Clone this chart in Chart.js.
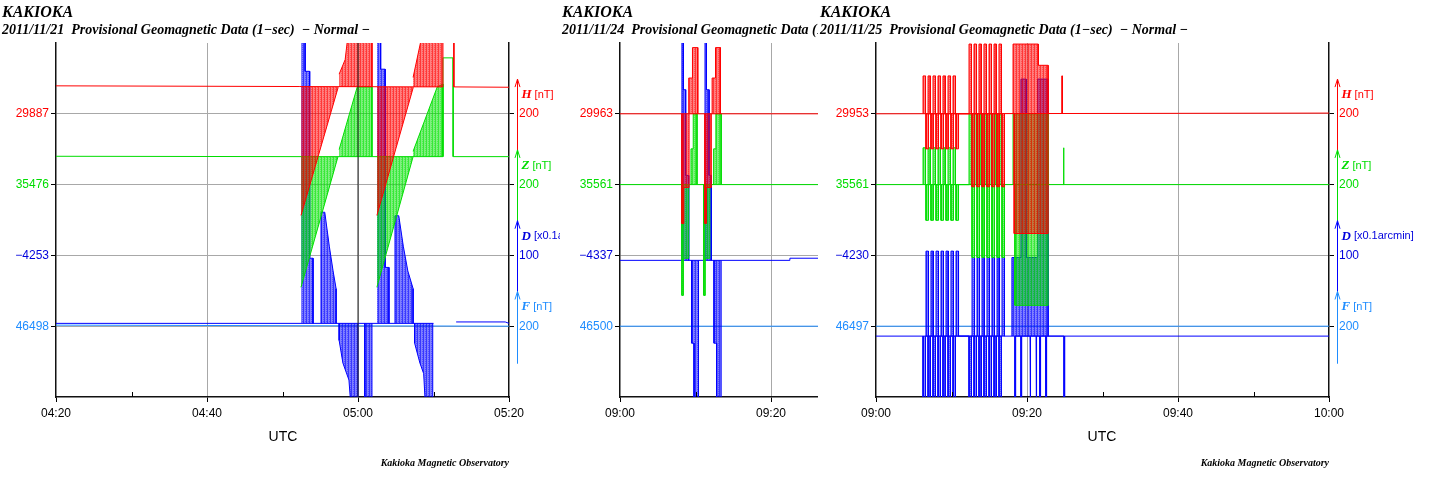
<!DOCTYPE html>
<html>
<head>
<meta charset="utf-8">
<script src="https://cdn.jsdelivr.net/npm/chart.js@4.4.0/dist/chart.umd.min.js"></script>
<style>
  body { margin: 0; background: #fff; width: 1429px; height: 482px; overflow: hidden; position: relative; }
  .panel { position: absolute; top: 0; height: 482px; background: #fff; overflow: hidden; }
  .panel canvas { position: absolute; left: 0; top: 0; }
  .t1 { position: absolute; left: 2px; top: 3px; font: bold italic 16px "Liberation Serif"; white-space: pre; color: #000; }
  .t2 { position: absolute; left: 2px; top: 22px; font: bold italic 14px "Liberation Serif"; white-space: pre; color: #000; }
  .utc { position: absolute; top: 428px; font: 14px "Liberation Sans"; transform: translateX(-50%); }
  .foot { position: absolute; top: 457px; font: bold italic 10px "Liberation Serif"; transform: translateX(-100%); white-space: pre; }
</style>
</head>
<body>

<div class="panel" style="left:0;width:560px;z-index:1">
  <canvas id="c1" width="560" height="482"></canvas>
  <div class="t1">KAKIOKA</div>
  <div class="t2">2011/11/21  Provisional Geomagnetic Data (1−sec)  − Normal −</div>
  <div class="utc" style="left:283px">UTC</div>
  <div class="foot" style="left:509px">Kakioka Magnetic Observatory</div>
</div>

<div class="panel" style="left:560px;width:560px;z-index:2">
  <canvas id="c2" width="560" height="482"></canvas>
  <div class="t1">KAKIOKA</div>
  <div class="t2">2011/11/24  Provisional Geomagnetic Data (1−sec)  − Normal −</div>
</div>

<div class="panel" style="left:818px;width:611px;z-index:3">
  <canvas id="c3" width="611" height="482"></canvas>
  <div class="t1">KAKIOKA</div>
  <div class="t2">2011/11/25  Provisional Geomagnetic Data (1−sec)  − Normal −</div>
  <div class="utc" style="left:284px">UTC</div>
  <div class="foot" style="left:511px">Kakioka Magnetic Observatory</div>
</div>

<script>
// components, top to bottom on the plot
const KEYS = ['H', 'Z', 'D', 'F'];
const UNITS = ['[nT]', '[nT]', '[x0.1arcmin]', '[nT]'];
const divScale = [200, 200, 100, 200];
const divLabels = ['200', '200', '100', '200'];
const LINE = { H: '#ff0000', Z: '#00dd00', D: '#0000ff', F: '#1e8cff', M: '#222222' };
const RGB = { H: [255, 0, 0], Z: [0, 225, 0], D: [0, 0, 255], F: [30, 140, 255], M: [0, 0, 0] };
const LABEL = { H: '#ff0000', Z: '#00dd00', D: '#0000dd', F: '#1e8cff' };

// ---------- 2011/11/21, 04:20-05:20 (minutes after 04:20) ----------
const p1Base = [29887, 35476, -4253, 46498];
const p1Level = [29963, 35555, -4349, 46498];
const p1XLabels = ['04:20', '', '04:40', '', '05:00', '', '05:20'];

const p1H = [[0, 29966], [32.3, 29964], [51.25, 29963], [51.25, 30150], [52.7, 30150], [52.7, 29963], [60, 29962]];
const p1HDown1 = [[32.45, 29600], [37.35, 29960], [37.35, 29963]];
const p1HUp1 = [[37.5, 29999], [38.3, 30040], [38.9, 30150], [41.85, 30150], [41.85, 29963]];
const p1HDown2 = [[42.5, 29600], [47.3, 29960], [47.3, 29963]];
const p1HUp2 = [[47.3, 29990], [48.9, 30150], [51.25, 30150]];

const p1Z = [[0, 35556], [32.45, 35555], [51.25, 35555], [51.25, 35834], [52.6, 35834], [52.6, 35555], [60, 35555]];
const p1ZDown1 = [[32.45, 35186], [37.35, 35555]];
const p1ZUp1 = [[37.5, 35575], [39.9, 35752], [41.85, 35752], [41.85, 35555]];
const p1ZDown2 = [[42.5, 35186], [47.3, 35555]];
const p1ZUp2 = [[47.3, 35570], [50.5, 35752], [51.25, 35760], [51.25, 35555]];

const p1D = [[0, -4349], [50, -4349], [51, null], [53, -4347], [59.5, -4347], [60, -4349]];
const p1DUp1 = [[32.45, -3900], [33.0, -3900], [33.0, -3993], [33.6, -3993], [33.6, -4257], [34.05, -4257], [34.05, -4349]];
const p1DUp1b = [[35.1, -4349], [35.1, -4192], [35.6, -4192], [36.2, -4240], [36.7, -4275], [37.1, -4300], [37.1, -4349]];
const p1DDown1 = [[37.5, -4349], [37.5, -4373], [38.0, -4405], [38.8, -4429], [39.3, -4500], [40.0, -4500], [40.0, -4349]];
const p1DDown1b = [[40.9, -4349], [40.9, -4500], [41.85, -4500], [41.85, -4349]];
const p1DUp2 = [[42.5, -3900], [43.0, -3900], [43.0, -3990], [43.6, -3990], [43.6, -4270], [44.1, -4270], [44.1, -4349]];
const p1DUp2b = [[44.9, -4349], [44.9, -4197], [45.4, -4197], [46.0, -4240], [46.6, -4275], [47.3, -4300], [47.3, -4349]];
const p1DDown2 = [[47.5, -4349], [47.5, -4377], [48.2, -4405], [48.7, -4420], [49.1, -4500], [49.9, -4500], [49.9, -4349]];

const p1F = [[0, 46501], [60, 46498]];
const p1Mark = [[40, 0], [40, 5]];

// ---------- 2011/11/24, 09:00-10:00 ----------
const p2Base = [29963, 35561, -4337, 46500];
const p2Level = [29963, 35561, -4344, 46500];
const p2XLabels = ['09:00', '', '09:20', '', '09:40', '', '10:00'];

const p2H = [[0, 29963], [60, 29963]];
const p2HDown1 = [[8.2, 29963], [8.2, 29653], [8.45, 29653], [8.45, 29755], [9.15, 29755], [9.15, 29963]];
const p2HUp1 = [[9.1, 29963], [9.1, 30064], [9.6, 30064], [9.6, 30150], [10.3, 30150], [10.3, 29963]];
const p2HDown2 = [[11.25, 29963], [11.25, 29653], [11.45, 29653], [11.45, 29755], [12.1, 29755], [12.1, 29963]];
const p2HUp2 = [[12.2, 29963], [12.2, 30064], [12.65, 30064], [12.65, 30150], [13.3, 30150], [13.3, 29963]];

const p2Z = [[0, 35561], [60, 35561]];
const p2ZDown1 = [[8.2, 35561], [8.2, 35248], [8.4, 35248], [8.4, 35353], [9.1, 35353], [9.1, 35561]];
const p2ZUp1 = [[9.4, 35561], [9.4, 35662], [9.7, 35662], [9.7, 35761], [10.2, 35761], [10.2, 35561]];
const p2ZDown2 = [[11.1, 35561], [11.1, 35248], [11.3, 35248], [11.3, 35353], [11.9, 35353], [11.9, 35561]];
const p2ZUp2 = [[12.4, 35561], [12.4, 35662], [12.7, 35662], [12.7, 35761], [13.4, 35761], [13.4, 35561]];

const p2D = [[0, -4344], [22.5, -4344], [22.5, -4341], [60, -4341]];
const p2DUp1 = [[8.2, -4344], [8.2, -3900], [8.4, -3900], [8.4, -4103], [8.7, -4103], [8.7, -4224], [9.1, -4224], [9.1, -4344]];
const p2DDown1 = [[9.5, -4344], [9.5, -4461], [9.8, -4461], [9.8, -4550], [10.4, -4550], [10.4, -4344]];
const p2DUp2 = [[11.26, -4344], [11.26, -3900], [11.45, -3900], [11.45, -4103], [11.8, -4103], [11.8, -4224], [12.1, -4224], [12.1, -4344]];
const p2DDown2 = [[12.45, -4344], [12.45, -4461], [12.8, -4461], [12.8, -4550], [13.4, -4550], [13.4, -4344]];

const p2F = [[0, 46500], [60, 46500]];

// ---------- 2011/11/25, 09:00-10:00 ----------
const p3Base = [29953, 35561, -4230, 46497];
const p3Level = [29953, 35561, -4344, 46497];
const p3XLabels = ['09:00', '', '09:20', '', '09:40', '', '10:00'];

const p3H = [[0, 29953], [60, 29955]];
const p3Z = [[0, 35561], [60, 35561]];
const p3D = [[0, -4344], [60, -4344]];
const p3F = [[0, 46497], [60, 46497]];

// pulse trains: H up / Z up / D down together, H down / Z down / D up together
const p3UpT = [6.23, 6.89, 7.55, 8.21, 8.87, 9.54, 10.2, 12.32, 12.98, 13.64, 14.3, 14.97, 15.63, 16.29];
const p3DnT = [6.62, 7.28, 7.95, 8.61, 9.27, 9.93, 10.6, 12.72, 13.38, 14.04, 14.7, 15.36, 16.03, 16.69];
const p3HUp = [30060, 30060, 30060, 30060, 30060, 30060, 30060, 30150, 30150, 30150, 30150, 30150, 30150, 30150];
const p3HDn = [29854, 29854, 29854, 29854, 29854, 29854, 29854, 29747, 29747, 29747, 29747, 29747, 29747, 29747];
const p3ZUp = [35665, 35665, 35665, 35665, 35665, 35665, 35665, 35761, 35761, 35761, 35761, 35761, 35761, 35761];
const p3ZDn = [35460, 35460, 35460, 35460, 35460, 35460, 35460, 35355, 35355, 35355, 35355, 35355, 35355, 35355];
const p3DUp = [-4224, -4224, -4224, -4224, -4224, -4224, -4224, -4233, -4233, -4233, -4233, -4233, -4233, -4233];
const p3DDn = [-4500, -4500, -4500, -4500, -4500, -4500, -4500, -4500, -4500, -4500, -4500, -4500, -4500, -4500];

// third burst around 09:18-09:23
const p3HUp3 = [[18.15, 29953], [18.15, 30150], [21.5, 30150], [21.5, 30090], [22.8, 30090], [22.8, 29953]];
const p3HDown3 = [[18.3, 29953], [18.3, 29615], [22.8, 29615], [22.8, 29953]];
const p3ZUp3 = [[18.15, 35561], [18.15, 35761], [22.8, 35761], [22.8, 35561]];
const p3ZDown3 = [[18.4, 35561], [18.4, 35220], [22.8, 35220], [22.8, 35561]];
const p3DUp3 = [[18.0, -4344], [18.0, -4233], [19.2, -4233], [19.2, -3981], [19.9, -3981], [19.9, -4233], [21.4, -4233], [21.4, -3981], [22.8, -3981], [22.8, -4344]];
const p3DDn3T = [18.4, 19.2, 20.4, 21.2, 21.7, 22.5, 24.9];
const p3DDn3 = [-4500, -4500, -4500, -4500, -4500, -4500, -4500];
const p3HSpikeT = [24.6];
const p3HSpike = [30060];
const p3ZSpikeT = [24.8];
const p3ZSpike = [35665];

function pulses(times, peaks, base, w) {
  const out = [];
  times.forEach((t, i) => {
    out.push([t, base], [t, peaks[i]], [t + w, peaks[i]], [t + w, base]);
  });
  return out;
}

// vertical-stripe fill, like the dense 1-sec columns of the original plots
function stripe(k) {
  const [r, g, b] = RGB[k];
  const c = document.createElement('canvas');
  c.width = 3; c.height = 2;
  const x = c.getContext('2d');
  x.fillStyle = `rgba(${r},${g},${b},0.5)`; x.fillRect(0, 0, 3, 2);
  x.clearRect(0, 0, 3, 2);
  x.fillStyle = `rgba(${r},${g},${b},0.78)`; x.fillRect(0, 0, 1, 2);
  x.fillStyle = `rgba(${r},${g},${b},0.5)`; x.fillRect(1, 0, 2, 2);
  x.fillStyle = `rgba(${r},${g},${b},0.35)`; x.fillRect(2, 1, 1, 1);
  return x.createPattern(c, 'repeat');
}

function sets(list, level) {
  return list.map(([k, arr, filled]) => {
    const i = KEYS.indexOf(k);
    return {
      data: arr.map(p => ({ x: p[0], y: p[1] })),
      yAxisID: k === 'M' ? 'g' : 'y' + k,
      borderColor: LINE[k],
      backgroundColor: filled ? stripe(k) : 'rgba(0,0,0,0)',
      borderWidth: 1,
      pointRadius: 0,
      tension: 0,
      spanGaps: false,
      fill: filled ? { value: level[i] } : false
    };
  });
}

const fmt = v => String(v).replace('-', '\u2212');

function makePanel(id, canvasW, axisLeft, axisRight, base, xLabels, datasets, showRight) {
  const yAxes = {};
  KEYS.forEach((k, i) => {
    const g = 4 - i;
    yAxes['y' + k] = { display: false, min: base[i] - g * divScale[i], max: base[i] + (5 - g) * divScale[i] };
  });
  const idx = v => 4 - v; // grid value -> component index
  const inner = v => v >= 1 && v <= 4;

  const decor = {
    id: 'decor',
    afterDraw(chart) {
      const { ctx, chartArea: a, scales } = chart;
      ctx.save();
      ctx.strokeStyle = '#000';
      ctx.lineWidth = 1;
      [10, 30, 50].forEach(v => {
        const x = Math.round(scales.x.getPixelForValue(v)) + 0.5;
        ctx.beginPath(); ctx.moveTo(x, a.bottom - 5); ctx.lineTo(x, a.bottom); ctx.stroke();
      });
      if (showRight) {
        const r = scales.g;
        const x = a.right + 8.5;
        KEYS.forEach((k, i) => {
          const g = 4 - i;
          const y0 = r.getPixelForValue(g - 0.53), y1 = r.getPixelForValue(g + 0.49);
          ctx.strokeStyle = LINE[k];
          ctx.beginPath(); ctx.moveTo(x, y0); ctx.lineTo(x, y1); ctx.stroke();
          ctx.beginPath(); ctx.moveTo(x - 2.5, y1 + 8); ctx.lineTo(x, y1); ctx.lineTo(x + 2.5, y1 + 8); ctx.stroke();
          const ly = r.getPixelForValue(g + 0.27);
          ctx.fillStyle = LABEL[k];
          ctx.textBaseline = 'middle';
          ctx.font = 'bold italic 13px "Liberation Serif"';
          ctx.fillText(k, x + 4, ly);
          const w = ctx.measureText(k).width;
          ctx.font = '11px "Liberation Sans"';
          ctx.fillText(UNITS[i], x + 4 + w + 3, ly);
        });
      }
      ctx.restore();
    }
  };

  return new Chart(document.getElementById(id), {
    type: 'line',
    data: { datasets },
    options: {
      responsive: false,
      animation: false,
      events: [],
      layout: { padding: { top: 43, left: 0, right: 0, bottom: 0 } },
      plugins: { legend: { display: false }, tooltip: { enabled: false } },
      scales: {
        x: {
          type: 'linear', min: 0, max: 60,
          afterFit: s => { s.height = 85; },
          ticks: {
            stepSize: 10, autoSkip: false, maxRotation: 0, padding: 4,
            callback: v => xLabels[Math.round(v / 10)] || '',
            font: { family: 'Liberation Sans', size: 12 }, color: '#000'
          },
          grid: {
            color: c => (c.tick && (c.tick.value === 20 || c.tick.value === 40)) ? '#a8a8a8' : 'rgba(0,0,0,0)',
            tickColor: c => (c.tick && c.tick.value % 20 === 0) ? '#000' : 'rgba(0,0,0,0)',
            tickLength: 5, lineWidth: 1
          },
          border: { display: true, color: '#111', width: 1.5 }
        },
        g: {
          type: 'linear', position: 'left', min: 0, max: 5,
          afterFit: s => { s.width = axisLeft; },
          ticks: {
            stepSize: 1, padding: 2,
            callback: v => inner(v) ? fmt(base[idx(v)]) : '',
            color: c => inner(c.tick.value) ? LABEL[KEYS[idx(c.tick.value)]] : '#000',
            font: { family: 'Liberation Sans', size: 12 }
          },
          grid: {
            color: c => (c.tick && inner(c.tick.value)) ? '#a8a8a8' : 'rgba(0,0,0,0)',
            tickColor: c => (c.tick && inner(c.tick.value)) ? '#000' : 'rgba(0,0,0,0)',
            tickLength: 5, lineWidth: 1
          },
          border: { display: true, color: '#111', width: 1.5 }
        },
        r: {
          type: 'linear', position: 'right', min: 0, max: 5,
          afterFit: s => { s.width = canvasW - axisRight; },
          ticks: {
            stepSize: 1, padding: 5,
            callback: v => inner(v) ? divLabels[idx(v)] : '',
            color: c => inner(c.tick.value) ? LABEL[KEYS[idx(c.tick.value)]] : '#000',
            font: { family: 'Liberation Sans', size: 12 }
          },
          grid: {
            drawOnChartArea: false,
            tickColor: c => (c.tick && inner(c.tick.value)) ? '#000' : 'rgba(0,0,0,0)',
            tickLength: 5
          },
          border: { display: true, color: '#111', width: 1.5 }
        },
        ...yAxes
      }
    },
    plugins: [decor]
  });
}

makePanel('c1', 560, 56, 509, p1Base, p1XLabels, sets([
  ['M', p1Mark, false],
  ['H', p1H, false], ['H', p1HDown1, true], ['H', p1HUp1, true], ['H', p1HDown2, true], ['H', p1HUp2, true],
  ['Z', p1Z, false], ['Z', p1ZDown1, true], ['Z', p1ZUp1, true], ['Z', p1ZDown2, true], ['Z', p1ZUp2, true],
  ['D', p1D, false], ['D', p1DUp1, true], ['D', p1DUp1b, true], ['D', p1DDown1, true], ['D', p1DDown1b, true],
  ['D', p1DUp2, true], ['D', p1DUp2b, true], ['D', p1DDown2, true],
  ['F', p1F, false]
], p1Level), true);

makePanel('c2', 560, 60, 513, p2Base, p2XLabels, sets([
  ['H', p2H, false], ['H', p2HDown1, true], ['H', p2HUp1, true], ['H', p2HDown2, true], ['H', p2HUp2, true],
  ['Z', p2Z, false], ['Z', p2ZDown1, true], ['Z', p2ZUp1, true], ['Z', p2ZDown2, true], ['Z', p2ZUp2, true],
  ['D', p2D, false], ['D', p2DUp1, true], ['D', p2DDown1, true], ['D', p2DUp2, true], ['D', p2DDown2, true],
  ['F', p2F, false]
], p2Level), true);

const W = 0.33;
makePanel('c3', 611, 58, 511, p3Base, p3XLabels, sets([
  ['H', p3H, false],
  ['H', pulses(p3UpT, p3HUp, p3Level[0], W), true], ['H', pulses(p3DnT, p3HDn, p3Level[0], W), true],
  ['H', p3HUp3, true], ['H', p3HDown3, true], ['H', pulses(p3HSpikeT, p3HSpike, p3Level[0], 0.1), true],
  ['Z', p3Z, false],
  ['Z', pulses(p3UpT, p3ZUp, p3Level[1], W), true], ['Z', pulses(p3DnT, p3ZDn, p3Level[1], W), true],
  ['Z', p3ZUp3, true], ['Z', p3ZDown3, true], ['Z', pulses(p3ZSpikeT, p3ZSpike, p3Level[1], 0.1), true],
  ['D', p3D, false],
  ['D', pulses(p3DnT, p3DUp, p3Level[2], W), true], ['D', pulses(p3UpT, p3DDn, p3Level[2], W), true],
  ['D', p3DUp3, true], ['D', pulses(p3DDn3T, p3DDn3, p3Level[2], 0.1), true],
  ['F', p3F, false]
], p3Level), true);
</script>
</body>
</html>
